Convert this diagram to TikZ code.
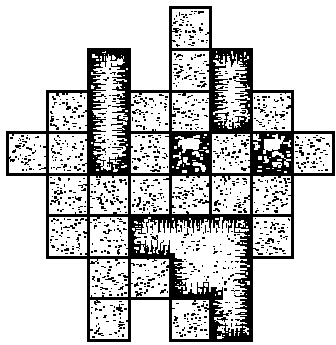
\documentclass[tikz,border=0pt]{standalone}
\newcommand{\speck}[5]{%
  \foreach \i in {1,...,#3}{%
    \pgfmathsetmacro{\px}{#1+0.04+0.88*rnd}%
    \pgfmathsetmacro{\py}{#2+0.04+0.88*rnd}%
    \pgfmathsetmacro{\sw}{(0.025+0.055*rnd)*#5}%
    \pgfmathsetmacro{\sh}{(0.02+0.035*rnd)*#5}%
    \fill[#4] (\px,\py) rectangle ++(\sw,\sh);
  }}
\newcommand{\lightcell}[2]{%
  \fill[white] (#1,#2) rectangle ++(1,1);
  \speck{#1}{#2}{70}{black}{1}
  \draw[cellborder] (#1,#2) rectangle ++(1,1);}
\tikzset{
  cellborder/.style={draw=black, line width=3pt, line join=miter},
}
\begin{document}
\begin{tikzpicture}[x=1pt,y=-1pt]
\useasboundingbox (0,0) rectangle (335,345);
\fill[white] (0,0) rectangle (335,345);
\pgfmathsetseed{11}
\begin{scope}[shift={(7,8)}, x=40.75pt, y=-41.5pt]
  % dark regions: black edges with spiky white interior
  \foreach \reg in {%
      {(2,1) rectangle (3,4)},
      {(5,1) rectangle (6,3)},
      {(3,5) -- (6,5) -- (6,8) -- (5,8) -- (5,7) -- (4,7) -- (4,6) -- (3,6) -- cycle}}{%
    \begin{scope}
      \clip \reg;
      \fill[white] \reg;
      \draw[black, line width=34pt, dash pattern=on 0.8pt off 5pt] \reg;
      \draw[black, line width=24pt, dash pattern=on 1.6pt off 2.6pt] \reg;
      \draw[black, line width=14pt, dash pattern=on 3pt off 1.2pt] \reg;
      \draw[black, line width=9pt] \reg;
    \end{scope}
  }
  % single darker cells
  \foreach \c/\r in {4/3, 6/3}{%
    \fill[black] (\c,\r) rectangle ++(1,1);
    \fill[white] (\c+0.3,\r+0.15) rectangle ++(0.4,0.25);
    \speck{\c}{\r}{70}{white}{1.6}
  }
  % speckles in dark regions
  \foreach \c/\r in {2/1,2/2,2/3,5/1,5/2,3/5,4/5,5/5,4/6,5/6,5/7}{%
    \speck{\c}{\r}{40}{black}{1}
    \speck{\c}{\r}{45}{white}{1.3}
  }
  % outlines of dark regions
  \draw[cellborder] (2,1) rectangle (3,4);
  \draw[cellborder] (5,1) rectangle (6,3);
  \draw[cellborder] (4,3) rectangle (5,4);
  \draw[cellborder] (6,3) rectangle (7,4);
  \draw[cellborder] (3,5) -- (6,5) -- (6,8) -- (5,8) -- (5,7) -- (4,7) -- (4,6) -- (3,6) -- cycle;
  % light cells
  \foreach \c/\r in {4/0, 4/1, 1/2, 3/2, 4/2, 6/2, 0/3, 1/3, 3/3, 5/3, 7/3,
                     1/4, 2/4, 3/4, 4/4, 5/4, 6/4, 1/5, 2/5, 6/5, 2/6, 3/6,
                     2/7, 4/7}{%
    \lightcell{\c}{\r}
  }
\end{scope}
\end{tikzpicture}
\end{document}
